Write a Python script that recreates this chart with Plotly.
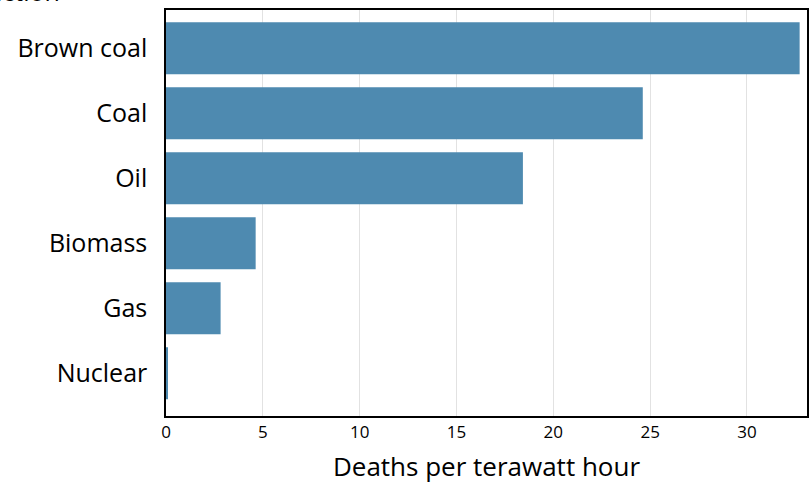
import plotly.graph_objects as go

sources = ["Brown coal", "Coal", "Oil", "Biomass", "Gas", "Nuclear"]
deaths_per_twh = [32.72, 24.62, 18.43, 4.63, 2.82, 0.07]
x_ticks = [0, 5, 10, 15, 20, 25, 30]

FONT = "Open Sans"

fig = go.Figure(go.Bar(
    x=deaths_per_twh,
    y=sources,
    orientation="h",
    marker=dict(color="#4e8ab0", line=dict(width=0)),
    width=0.8,
))

fig.update_layout(
    width=810, height=490,
    margin=dict(l=166, r=1, t=10, b=74),
    paper_bgcolor="white", plot_bgcolor="white",
    font=dict(family=FONT, color="black"),
    showlegend=False,
    xaxis=dict(
        range=[0, 33.1],
        tickvals=x_ticks,
        showgrid=True, gridcolor="#e2e2e2", gridwidth=1,
        showline=True, linecolor="black", linewidth=1.5, mirror=True,
        ticks="", tickfont=dict(size=17, family=FONT),
        title=dict(text="Deaths per terawatt hour", font=dict(size=26, family=FONT), standoff=16),
        zeroline=False,
    ),
    yaxis=dict(
        type="category",
        categoryorder="array", categoryarray=sources,
        range=[5.657, -0.589],
        showgrid=False,
        showline=True, linecolor="black", linewidth=1.5, mirror=True,
        ticks="", ticklabelstandoff=12,
        tickfont=dict(size=25, family=FONT),
    ),
    annotations=[dict(
        text="Energy production",
        xref="paper", yref="paper",
        x=-0.162, y=1.0, xanchor="right", yanchor="bottom",
        showarrow=False, font=dict(size=25, family=FONT),
    )],
)

fig.write_html("out.html", config={"displayModeBar": False},
               post_script="document.body.style.margin='0';")
